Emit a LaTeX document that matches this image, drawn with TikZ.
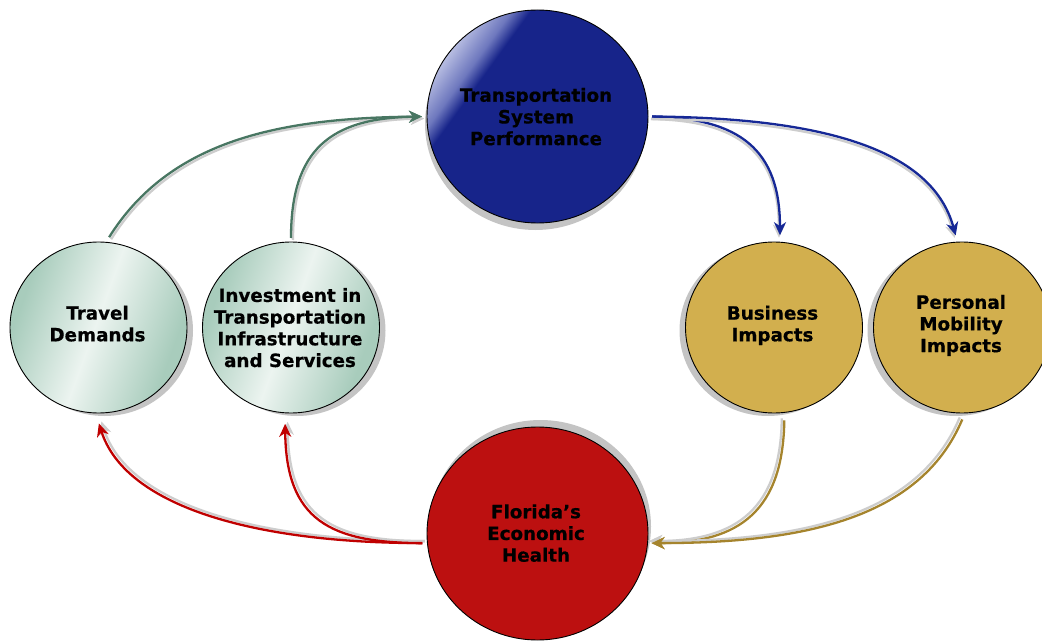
\documentclass[tikz,border=0pt]{standalone}
\usepackage{fontspec}
\setsansfont{DejaVu Sans}[BoldFeatures={FakeBold=0.5}]
\usetikzlibrary{arrows.meta,shapes.geometric,shadows}
\definecolor{sage}{RGB}{168,204,188}
\definecolor{sagelight}{RGB}{236,244,240}
\definecolor{tspblue}{RGB}{23,36,138}
\definecolor{lavlight}{RGB}{196,201,232}
\definecolor{lavmid}{RGB}{110,120,190}
\definecolor{flored}{RGB}{188,16,16}
\definecolor{goldfill}{RGB}{210,175,78}
\definecolor{shgray}{RGB}{196,196,196}
\definecolor{greenline}{RGB}{72,118,98}
\definecolor{blueline}{RGB}{22,40,150}
\definecolor{redline}{RGB}{192,0,0}
\definecolor{goldline}{RGB}{165,132,45}
\definecolor{lineshadow}{RGB}{205,205,205}
\pgfdeclarehorizontalshading{sageband}{100bp}{color(0bp)=(sage); color(27bp)=(sage); color(49bp)=(sagelight); color(72bp)=(sage); color(100bp)=(sage)}
\pgfdeclarehorizontalshading{bluegloss}{100bp}{color(0bp)=(lavlight); color(24bp)=(lavlight); color(31bp)=(lavmid); color(34.5bp)=(tspblue); color(100bp)=(tspblue)}
\newcommand\shconn[4]{%
  \draw[conn, draw=lineshadow, transform canvas={xshift=#2, yshift=#3}] #4;
  \draw[conn, draw=#1] #4;}
\begin{document}
\begin{tikzpicture}[x=1bp,y=-1bp,
  bubble/.style={ellipse, draw=black, line width=0.9bp, inner sep=0pt, outer sep=0pt},
  small/.style={minimum width=177bp, minimum height=171bp},
  big/.style={minimum width=221bp, minimum height=213bp},
  sh/.style 2 args={drop shadow={shadow xshift=#1, shadow yshift=#2, fill=shgray, opacity=1}},
  txt/.style={font=\sffamily\bfseries\fontsize{18.3bp}{21.7bp}\selectfont, align=center, text depth=0pt, inner sep=0pt},
  conn/.style={line width=2.3bp, -{Stealth[length=13bp,width=12bp,inset=4bp]}},
]
\useasboundingbox (0,0) rectangle (1042,641);
\clip (0,0) rectangle (1042,641);
\fill[white] (0,0) rectangle (1042,641);

\node[bubble, big, shading=bluegloss, shading angle=-36, sh={-2bp}{-7bp}] (tsp) at (537.5,116.5) {};
\node[bubble, small, shading=sageband, shading angle=-20, sh={6bp}{-3bp}] (travel) at (98.5,327.5) {};
\node[bubble, small, shading=sageband, shading angle=-20, sh={6bp}{-3bp}] (inv) at (291,327.5) {};
\node[bubble, small, fill=goldfill, sh={-6bp}{-3bp}] (bus) at (774,327.5) {};
\node[bubble, small, fill=goldfill, sh={-6bp}{-3bp}] (per) at (962,327.5) {};
\node[bubble, big, fill=flored, sh={3bp}{7bp}] (flo) at (537.5,533.5) {};

\node[txt] (tsp-t) at (536,116.5) {Transportation\\System\\Performance};
\node[txt] (travel-t) at (97.5,323.5) {Travel\\Demands};
\node[txt] (inv-t) at (290,327.5) {Investment in\\Transportation\\Infrastructure\\and Services};
\node[txt] (bus-t) at (772.5,323.5) {Business\\Impacts};
\node[txt] (per-t) at (961,323.5) {Personal\\Mobility\\Impacts};
\node[txt] (flo-t) at (536,533) {Florida’s\\Economic\\Health};

\shconn{greenline}{2bp}{-2bp}{[shorten <=6bp, shorten >=5bp] (travel.85) .. controls (170,140) and (280,118) .. (tsp.180)}
\shconn{greenline}{2bp}{-2bp}{[shorten <=4bp, shorten >=5bp] (inv.north) .. controls (291,150) and (330,118) .. (tsp.180)}

\shconn{blueline}{-1bp}{-2.5bp}{[shorten <=4bp, shorten >=7bp] (tsp.0) .. controls (740,118) and (780,150) .. (bus.86)}
\shconn{blueline}{-1bp}{-2.5bp}{[shorten <=4bp, shorten >=7bp] (tsp.0) .. controls (850,118) and (935,160) .. (per.93)}

\shconn{redline}{2.5bp}{2bp}{[shorten <=5bp, shorten >=11bp] (flo.185) .. controls (250,543) and (125,505) .. (travel.268)}
\shconn{redline}{2.5bp}{2bp}{[shorten <=5bp, shorten >=11bp] (flo.185) .. controls (330,543) and (286,520) .. (inv.266)}

\shconn{goldline}{-2.5bp}{2bp}{[shorten <=8bp, shorten >=4bp] (bus.277) .. controls (783,510) and (740,543) .. (flo.355)}
\shconn{goldline}{-2.5bp}{2bp}{[shorten <=7bp, shorten >=4bp] (per.272) .. controls (920,520) and (800,543) .. (flo.355)}
\end{tikzpicture}
\end{document}
